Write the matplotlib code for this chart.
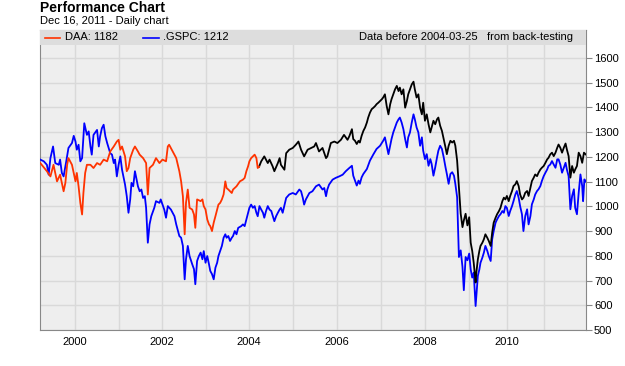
import numpy as np
import matplotlib.pyplot as plt
from matplotlib.lines import Line2D
from matplotlib.patches import Rectangle

# DAA (red before the back-testing cut-off, black after)
daa_dates = [
    1999.22, 1999.37, 1999.45, 1999.52, 1999.60, 1999.67, 1999.75, 1999.79, 1999.83, 1999.86,
    1999.94, 2000.02, 2000.05, 2000.09, 2000.13, 2000.17, 2000.20, 2000.24, 2000.28, 2000.36,
    2000.43, 2000.51, 2000.58, 2000.66, 2000.74, 2000.81, 2000.89, 2000.96, 2001.00, 2001.04,
    2001.08, 2001.15, 2001.19, 2001.23, 2001.27, 2001.34, 2001.38, 2001.45, 2001.49, 2001.57,
    2001.64, 2001.68, 2001.72, 2001.80, 2001.87, 2001.95, 2002.02, 2002.10, 2002.14, 2002.17,
    2002.25, 2002.33, 2002.40, 2002.44, 2002.48, 2002.52, 2002.55, 2002.59, 2002.63, 2002.69,
    2002.73, 2002.76, 2002.80, 2002.88, 2002.92, 2002.95, 2002.99, 2003.03, 2003.07, 2003.10,
    2003.14, 2003.18, 2003.22, 2003.26, 2003.29, 2003.33, 2003.37, 2003.41, 2003.45, 2003.48,
    2003.52, 2003.60, 2003.63, 2003.71, 2003.79, 2003.86, 2003.90, 2003.94, 2003.98, 2004.01,
    2004.05, 2004.09, 2004.13, 2004.17, 2004.20, 2004.23,
    2004.28, 2004.35, 2004.43, 2004.47, 2004.54, 2004.58, 2004.66, 2004.70, 2004.73, 2004.81,
    2004.85, 2004.92, 2005.00, 2005.07, 2005.13, 2005.19, 2005.26, 2005.34, 2005.42, 2005.49,
    2005.53, 2005.60, 2005.68, 2005.76, 2005.79, 2005.87, 2005.95, 2006.02, 2006.10, 2006.17,
    2006.25, 2006.29, 2006.35, 2006.38, 2006.42, 2006.46, 2006.50, 2006.53, 2006.57, 2006.61,
    2006.65, 2006.69, 2006.72, 2006.76, 2006.80, 2006.84, 2006.88, 2006.91, 2006.95, 2006.99,
    2007.03, 2007.06, 2007.10, 2007.14, 2007.18, 2007.22, 2007.25, 2007.29, 2007.33, 2007.37,
    2007.41, 2007.44, 2007.48, 2007.52, 2007.56, 2007.60, 2007.63, 2007.67, 2007.71, 2007.75,
    2007.78, 2007.82, 2007.86, 2007.90, 2007.94, 2007.97, 2008.01, 2008.05, 2008.09, 2008.13,
    2008.16, 2008.20, 2008.24, 2008.28, 2008.31, 2008.35, 2008.39, 2008.43, 2008.47, 2008.50,
    2008.54, 2008.58, 2008.62, 2008.66, 2008.69, 2008.73, 2008.77, 2008.81, 2008.85, 2008.88,
    2008.92, 2008.96, 2009.00, 2009.04, 2009.08, 2009.12, 2009.17, 2009.19, 2009.23, 2009.27,
    2009.30, 2009.35, 2009.39, 2009.43, 2009.48, 2009.52, 2009.57, 2009.61, 2009.65, 2009.70,
    2009.74, 2009.79, 2009.83, 2009.88, 2009.92, 2009.96, 2010.00, 2010.05, 2010.09, 2010.14,
    2010.18, 2010.23, 2010.27, 2010.32, 2010.36, 2010.41, 2010.45, 2010.50, 2010.55, 2010.59,
    2010.64, 2010.68, 2010.73, 2010.77, 2010.82, 2010.86, 2010.91, 2010.95, 2011.00, 2011.04,
    2011.08, 2011.11, 2011.15, 2011.19, 2011.23, 2011.27, 2011.31, 2011.34, 2011.38, 2011.42,
    2011.46, 2011.50, 2011.53, 2011.57, 2011.61, 2011.65, 2011.69, 2011.72, 2011.76, 2011.80,
    2011.84, 2011.88, 2011.92, 2011.96,
]
daa_values = [
    1175, 1142, 1121, 1168, 1101, 1128, 1061, 1095, 1168, 1195,
    1168, 1101, 1135, 1081, 1014, 967, 1054, 1135, 1168, 1168,
    1155, 1175, 1168, 1189, 1182, 1222, 1242, 1262, 1269, 1229,
    1242, 1202, 1142, 1155, 1195, 1229, 1242, 1222, 1209, 1195,
    1175, 1048, 1155, 1168, 1195, 1175, 1189, 1182, 1242, 1249,
    1222, 1195, 1142, 1101, 1041, 887, 1014, 1068, 994, 987,
    967, 913, 1028, 1021, 1028, 1001, 987, 947, 927, 920,
    900, 934, 960, 987, 1007, 1014, 1028, 1048, 1101, 1074,
    1068, 1054, 1068, 1081, 1101, 1108, 1115, 1142, 1162, 1182,
    1195, 1202, 1209, 1195, 1155, 1160,
    1182, 1202, 1175, 1189, 1162, 1142, 1175, 1195, 1168, 1148,
    1215, 1229, 1236, 1249, 1262, 1229, 1202, 1229, 1236, 1242,
    1256, 1222, 1236, 1195, 1202, 1256, 1262, 1256, 1269, 1289,
    1269, 1283, 1312, 1272, 1265, 1252, 1265, 1258, 1285, 1305,
    1319, 1339, 1359, 1379, 1393, 1399, 1406, 1413, 1419, 1426,
    1433, 1440, 1453, 1406, 1372, 1413, 1433, 1453, 1473, 1487,
    1466, 1480, 1453, 1473, 1399, 1426, 1453, 1473, 1493, 1504,
    1473, 1440, 1453, 1399, 1372, 1419, 1346, 1372, 1332, 1299,
    1319, 1346, 1332, 1352, 1359, 1326, 1305, 1272, 1238, 1211,
    1245, 1265, 1258, 1265, 1245, 1185, 1077, 970, 916, 943,
    970, 923, 956, 853, 820, 772, 692, 732, 786, 820,
    840, 853, 867, 887, 873, 860, 840, 894, 934, 954,
    968, 981, 994, 1021, 1035, 1028, 1042, 1021, 1042, 1062,
    1082, 1089, 1102, 1082, 1048, 1028, 1035, 1055, 1062, 1042,
    1075, 1102, 1116, 1129, 1122, 1136, 1149, 1156, 1163, 1176,
    1190, 1196, 1210, 1217, 1203, 1217, 1237, 1250, 1237, 1217,
    1237, 1254, 1230, 1203, 1116, 1163, 1136, 1149, 1163, 1217,
    1203, 1176, 1217, 1210,
]

gspc_dates = [
    1999.22, 1999.30, 1999.37, 1999.41, 1999.45, 1999.51, 1999.56, 1999.64, 1999.67, 1999.71,
    1999.75, 1999.81, 1999.86, 1999.94, 1999.98, 2000.02, 2000.05, 2000.09, 2000.13, 2000.17,
    2000.22, 2000.28, 2000.32, 2000.36, 2000.39, 2000.43, 2000.51, 2000.55, 2000.58, 2000.62,
    2000.66, 2000.70, 2000.74, 2000.81, 2000.85, 2000.89, 2000.92, 2000.96, 2001.00, 2001.04,
    2001.08, 2001.15, 2001.19, 2001.23, 2001.27, 2001.30, 2001.34, 2001.38, 2001.42, 2001.45,
    2001.49, 2001.53, 2001.57, 2001.61, 2001.64, 2001.68, 2001.72, 2001.76, 2001.83, 2001.87,
    2001.95, 2001.98, 2002.06, 2002.10, 2002.14, 2002.21, 2002.29, 2002.33, 2002.40, 2002.44,
    2002.48, 2002.52, 2002.55, 2002.59, 2002.63, 2002.69, 2002.73, 2002.76, 2002.80, 2002.84,
    2002.88, 2002.92, 2002.95, 2002.99, 2003.03, 2003.07, 2003.10, 2003.14, 2003.18, 2003.22,
    2003.26, 2003.29, 2003.33, 2003.37, 2003.41, 2003.45, 2003.48, 2003.52, 2003.56, 2003.60,
    2003.63, 2003.67, 2003.71, 2003.75, 2003.82, 2003.86, 2003.90, 2003.94, 2003.98, 2004.01,
    2004.05, 2004.09, 2004.13, 2004.17, 2004.20, 2004.24, 2004.28, 2004.32, 2004.35, 2004.39,
    2004.43, 2004.47, 2004.51, 2004.58, 2004.62, 2004.66, 2004.70, 2004.73, 2004.77, 2004.85,
    2004.92, 2005.00, 2005.07, 2005.15, 2005.19, 2005.23, 2005.26, 2005.30, 2005.38, 2005.45,
    2005.53, 2005.60, 2005.68, 2005.72, 2005.76, 2005.79, 2005.83, 2005.91, 2005.98, 2006.06,
    2006.14, 2006.21, 2006.29, 2006.35, 2006.38, 2006.42, 2006.46, 2006.50, 2006.53, 2006.57,
    2006.61, 2006.69, 2006.76, 2006.84, 2006.91, 2006.99, 2007.06, 2007.10, 2007.14, 2007.18,
    2007.22, 2007.25, 2007.29, 2007.33, 2007.37, 2007.41, 2007.44, 2007.48, 2007.52, 2007.56,
    2007.60, 2007.63, 2007.67, 2007.71, 2007.75, 2007.78, 2007.82, 2007.86, 2007.90, 2007.94,
    2007.97, 2008.01, 2008.05, 2008.09, 2008.13, 2008.16, 2008.20, 2008.24, 2008.28, 2008.31,
    2008.35, 2008.39, 2008.43, 2008.47, 2008.50, 2008.54, 2008.58, 2008.62, 2008.66, 2008.69,
    2008.73, 2008.77, 2008.81, 2008.85, 2008.88, 2008.92, 2008.96, 2009.00, 2009.04, 2009.08,
    2009.12, 2009.17, 2009.19, 2009.23, 2009.27, 2009.30, 2009.35, 2009.39, 2009.43, 2009.48,
    2009.52, 2009.57, 2009.61, 2009.65, 2009.70, 2009.74, 2009.79, 2009.83, 2009.88, 2009.92,
    2009.96, 2010.00, 2010.05, 2010.09, 2010.14, 2010.18, 2010.23, 2010.27, 2010.32, 2010.36,
    2010.41, 2010.45, 2010.50, 2010.55, 2010.59, 2010.64, 2010.68, 2010.73, 2010.77, 2010.82,
    2010.86, 2010.91, 2010.95, 2011.00, 2011.04, 2011.08, 2011.11, 2011.15, 2011.19, 2011.23,
    2011.27, 2011.31, 2011.34, 2011.38, 2011.42, 2011.46, 2011.50, 2011.53, 2011.57, 2011.61,
    2011.65, 2011.69, 2011.72, 2011.76, 2011.80, 2011.84, 2011.88, 2011.90, 2011.93, 2011.96,
]
gspc_values = [
    1189, 1182, 1168, 1128, 1195, 1242, 1175, 1168, 1189, 1135,
    1121, 1182, 1236, 1256, 1285, 1262, 1229, 1249, 1182, 1195,
    1336, 1289, 1303, 1242, 1209, 1289, 1309, 1242, 1283, 1316,
    1330, 1283, 1256, 1215, 1209, 1175, 1189, 1121, 1168, 1202,
    1148, 1088, 1041, 974, 1028, 1095, 1081, 1142, 1108, 1081,
    1061, 1068, 1034, 1041, 994, 853, 927, 960, 994, 1021,
    1014, 1028, 987, 954, 1001, 987, 960, 927, 880, 873,
    840, 705, 786, 840, 799, 766, 746, 685, 779, 799,
    813, 786, 819, 772, 799, 766, 739, 726, 705, 752,
    772, 799, 819, 840, 873, 887, 873, 880, 860, 873,
    880, 900, 887, 913, 920, 927, 920, 947, 974, 994,
    1007, 994, 1001, 974, 960, 1001, 987, 974, 954, 981,
    1001, 987, 981, 940, 960, 974, 987, 994, 974, 1034,
    1048, 1054, 1048, 1068, 1061, 1034, 1007, 1028, 1054, 1061,
    1081, 1088, 1068, 1074, 1041, 1068, 1088, 1108, 1115, 1121,
    1128, 1142, 1155, 1164, 1124, 1104, 1084, 1104, 1091, 1117,
    1131, 1151, 1185, 1211, 1232, 1245, 1265, 1279, 1245, 1211,
    1245, 1272, 1299, 1319, 1339, 1352, 1359, 1339, 1312, 1272,
    1238, 1279, 1299, 1339, 1372, 1352, 1319, 1299, 1245, 1279,
    1225, 1191, 1211, 1164, 1191, 1171, 1124, 1158, 1198, 1225,
    1245, 1232, 1198, 1158, 1131, 1091, 1131, 1138, 1124, 1091,
    1037, 795, 822, 755, 661, 795, 782, 809, 745, 712,
    732, 597, 638, 719, 745, 772, 793, 813, 840, 820,
    799, 779, 867, 900, 934, 947, 961, 968, 981, 974,
    1001, 994, 961, 981, 1001, 1021, 1048, 1062, 1035, 1001,
    968, 900, 961, 988, 927, 961, 1008, 1028, 1048, 1062,
    1069, 1082, 1102, 1122, 1136, 1149, 1163, 1169, 1183, 1169,
    1156, 1190, 1190, 1169, 1136, 1156, 1176, 1149, 1122, 988,
    1042, 1069, 994, 968, 1055, 1129, 1082, 1021, 1109, 1100,
]

cutoff = 2004.23
year_ticks = [2000, 2002, 2004, 2006, 2008, 2010]
y_ticks = [500, 600, 700, 800, 900, 1000, 1100, 1200, 1300, 1400, 1500, 1600]

# the chart's time axis is trading-day based, so later years take less room
year_edges = [1999, 2000, 2001, 2002, 2003, 2004, 2005, 2006, 2007, 2008, 2009, 2010, 2011, 2012]
edge_pos = [30.3, 74.3, 118.3, 161.3, 205.7, 248.7, 292.5, 336.3, 380.3, 424.3, 469.0, 506.7, 543.5, 587.3]


def fwd(x):
    return np.interp(x, year_edges, edge_pos, left=edge_pos[0], right=edge_pos[-1])


def inv(p):
    return np.interp(p, edge_pos, year_edges)


plt.rcParams['font.family'] = ['Liberation Sans', 'DejaVu Sans']

fig = plt.figure(figsize=(6.25, 3.66), dpi=100)
ax = fig.add_axes([40.3 / 625, 36 / 366, 545.4 / 625, 300 / 366])
ax.set_facecolor('#eeeeee')
ax.set_xscale('function', functions=(fwd, inv))

daa_dates = np.array(daa_dates)
daa_values = np.array(daa_values)
pre = daa_dates <= cutoff
post = daa_dates >= cutoff

ax.plot(gspc_dates, gspc_values, color='#0000ff', lw=1.3, zorder=3)
ax.plot(daa_dates[post], daa_values[post], color='#000000', lw=1.3, zorder=4)
ax.plot(daa_dates[pre], daa_values[pre], color='#ff3300', lw=1.3, zorder=4)

ax.set_xlim(1999.22, 2011.96)
ax.set_ylim(500, 1713)

ax.set_xticks(year_ticks)
ax.set_xticklabels([str(y) for y in year_ticks])
ax.set_xticks(list(range(2000, 2012)), minor=True)
ax.set_yticks(y_ticks)
ax.yaxis.tick_right()
ax.tick_params(axis='x', which='both', length=0, labelsize=8, pad=5)
ax.tick_params(axis='y', length=4, color='#888888', labelsize=8, pad=2)
ax.grid(True, which='both', color='#d9d9d9', lw=1, zorder=0)
ax.set_axisbelow(True)
for s in ax.spines.values():
    s.set_color('#888888')

# legend band along the top of the plot
ax.add_patch(Rectangle((0, 0.95), 1, 0.05, transform=ax.transAxes,
                       facecolor='#dddddd', edgecolor='none', zorder=5))
ax.add_line(Line2D([0.009, 0.036], [0.975, 0.975], transform=ax.transAxes,
                   color='#ff3300', lw=1.2, zorder=6))
ax.text(0.045, 0.975, 'DAA: 1182', transform=ax.transAxes, fontsize=8,
        va='center', ha='left', zorder=6)
ax.add_line(Line2D([0.188, 0.218], [0.975, 0.975], transform=ax.transAxes,
                   color='#0000ff', lw=1.2, zorder=6))
ax.text(0.225, 0.975, '.GSPC: 1212', transform=ax.transAxes, fontsize=8,
        va='center', ha='left', zorder=6)
ax.text(0.977, 0.975, 'Data before 2004-03-25   from back-testing', transform=ax.transAxes,
        fontsize=8, va='center', ha='right', zorder=6)

fig.text(40 / 625, 1 - 8 / 366, 'Performance Chart', fontsize=10, fontweight='bold',
         va='center', ha='left')
fig.text(40 / 625, 1 - 20.5 / 366, 'Dec 16, 2011 - Daily chart', fontsize=8,
         va='center', ha='left')

fig.savefig('out.png', dpi=100)
